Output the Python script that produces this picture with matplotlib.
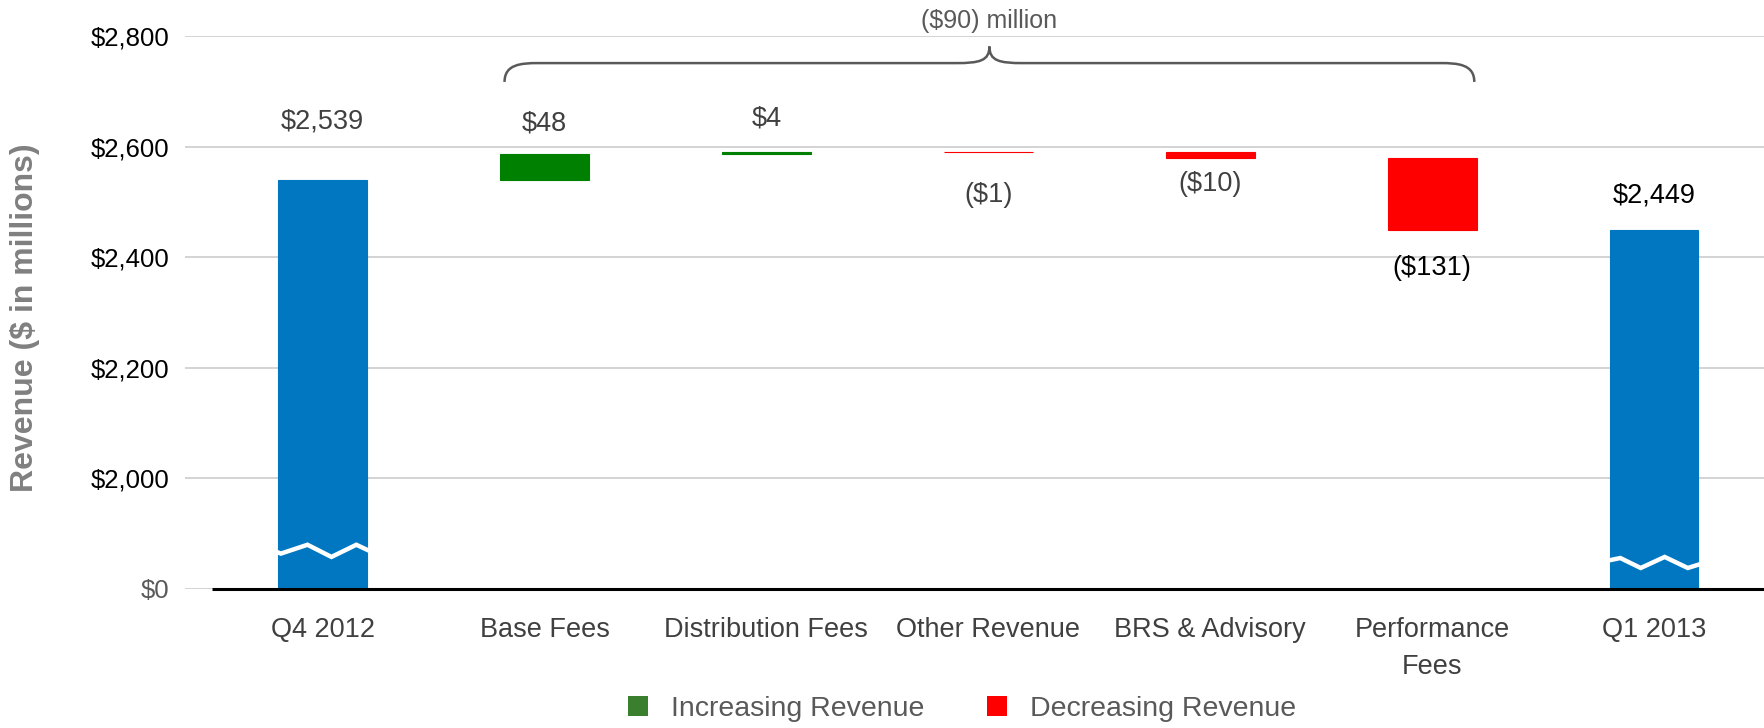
import matplotlib
matplotlib.use("Agg")
import matplotlib.pyplot as plt
from matplotlib.path import Path
from matplotlib.patches import PathPatch, Patch

plt.rcParams['font.family'] = ['Liberation Sans', 'DejaVu Sans']

# ---------------- data ----------------
categories = ['Q4 2012', 'Base Fees', 'Distribution Fees', 'Other Revenue',
              'BRS & Advisory', 'Performance\nFees', 'Q1 2013']
start_total = 2539
changes = [48, 4, -1, -10, -131]
end_total = 2449
brace_text = '($90) million'
y_ticks = [1800, 2000, 2200, 2400, 2600, 2800]
y_tick_labels = ['$0', '$2,000', '$2,200', '$2,400', '$2,600', '$2,800']
axis_floor = 1800  # broken axis: the "$0" tick sits here

# ---------------- style ----------------
BLUE = '#0077C0'
GREEN = '#008000'
RED = '#FF0000'
LEG_GREEN = '#3A7F2E'
GRAY_TXT = '#404040'
LEG_TXT = '#595959'
label_offsets = [106, 54, 59, -77, -48, -68, 62]
label_colors = [GRAY_TXT, GRAY_TXT, GRAY_TXT, GRAY_TXT, GRAY_TXT, 'black', 'black']
FS = 19.5

fig = plt.figure(figsize=(17.65, 7.28), dpi=100)
ax = fig.add_axes([185 / 1765, (728 - 589) / 728, 1 - 185 / 1765, (589 - 36) / 728])

n = len(categories)
xs = list(range(n))
width = 0.40

# running totals
bottoms, heights, colors = [], [], []
bottoms.append(axis_floor); heights.append(start_total - axis_floor); colors.append(BLUE)
run = start_total
for c in changes:
    if c >= 0:
        bottoms.append(run); heights.append(c); colors.append(GREEN)
    else:
        bottoms.append(run + c); heights.append(-c); colors.append(RED)
    run += c
bottoms.append(axis_floor); heights.append(end_total - axis_floor); colors.append(BLUE)

ax.bar(xs, heights, bottom=bottoms, width=width, color=colors,
       edgecolor=colors, linewidth=0.8, zorder=3)

# value labels
labels = ['$' + format(start_total, ',')]
for c in changes:
    labels.append('$' + str(c) if c >= 0 else '($' + str(-c) + ')')
labels.append('$' + format(end_total, ','))
anchors = []
for i in range(n):
    top = bottoms[i] + heights[i]
    if label_offsets[i] >= 0:
        anchors.append(top + label_offsets[i])
    else:
        anchors.append(bottoms[i] + label_offsets[i])
for i in range(n):
    ax.text(xs[i], anchors[i], labels[i], ha='center', va='center',
            fontsize=FS, color=label_colors[i], zorder=5)

# break marks (white zigzag) on the total bars
def zigzag(xc, yc, pts):
    xx = [xc - width / 2 + f * width for f, _ in pts]
    yy = [yc + d for _, d in pts]
    ax.plot(xx, yy, color='white', lw=3.2, zorder=4, solid_joinstyle='miter')

zigzag(0, 1868, [(0, -2), (0.03, -4), (0.33, 12), (0.6, -10), (0.88, 12), (1.0, 3)])
zigzag(6, 1846, [(0, 6), (0.12, 10), (0.35, -8), (0.62, 12), (0.88, -8), (1.0, -2)])

# axes formatting
ax.set_xlim(-0.62, 6.5)
ax.set_ylim(axis_floor, 2800)
ax.set_yticks(y_ticks)
ax.set_yticklabels(y_tick_labels)
for t in ax.get_yticklabels():
    t.set_color('black')
ax.get_yticklabels()[0].set_color(LEG_TXT)
ax.set_xticks(xs)
ax.set_xticklabels(categories, color=GRAY_TXT, linespacing=1.55)
ax.tick_params(axis='y', length=0, labelsize=18.5, pad=11)
ax.tick_params(axis='x', length=0, labelsize=FS, pad=20.5)
for s in ax.spines.values():
    s.set_visible(False)
ax.yaxis.grid(True, color='#D0D0D0', lw=1.3, zorder=0)
ax.set_axisbelow(True)
ax.hlines(axis_floor, -0.5, 6.5, color='black', lw=2.2, zorder=6, clip_on=False)

fig.text(25 / 1765, 1 - 318 / 728, 'Revenue ($ in millions)', fontsize=23,
         fontweight='bold', color='#808080', rotation=90, ha='center', va='center')

# brace over the changes
x0, x1 = 0.82, 5.19
xm = (x0 + x1) / 2
yb, yh, yt = 2717, 2751, 2781
k = 0.15
verts = [(x0, yb), (x0, yh - 2), (x0 + k * 0.5, yh), (x0 + k, yh),
         (xm - k, yh), (xm - k * 0.3, yh), (xm, yh + 4), (xm, yt),
         (xm, yh + 4), (xm + k * 0.3, yh), (xm + k, yh),
         (x1 - k, yh), (x1 - k * 0.5, yh), (x1, yh - 2), (x1, yb)]
codes = [Path.MOVETO, Path.CURVE4, Path.CURVE4, Path.CURVE4,
         Path.LINETO, Path.CURVE4, Path.CURVE4, Path.CURVE4,
         Path.CURVE4, Path.CURVE4, Path.CURVE4,
         Path.LINETO, Path.CURVE4, Path.CURVE4, Path.CURVE4]
ax.add_patch(PathPatch(Path(verts, codes), fill=False, edgecolor='#595959',
                       lw=1.8, clip_on=False, zorder=5))
ax.text(xm, 2827, brace_text, ha='center', va='center', fontsize=18,
        color=LEG_TXT, clip_on=False)

# legend
handles = [Patch(facecolor=LEG_GREEN, label='Increasing Revenue'),
           Patch(facecolor=RED, label='Decreasing Revenue')]
leg = fig.legend(handles=handles, loc='center', bbox_to_anchor=(0.545, 0.026),
                 ncol=2, frameon=False, fontsize=20.5, handlelength=0.7,
                 handleheight=0.7, handletextpad=0.8, columnspacing=2.2)
for t in leg.get_texts():
    t.set_color(LEG_TXT)

fig.savefig('out.png', dpi=100)
